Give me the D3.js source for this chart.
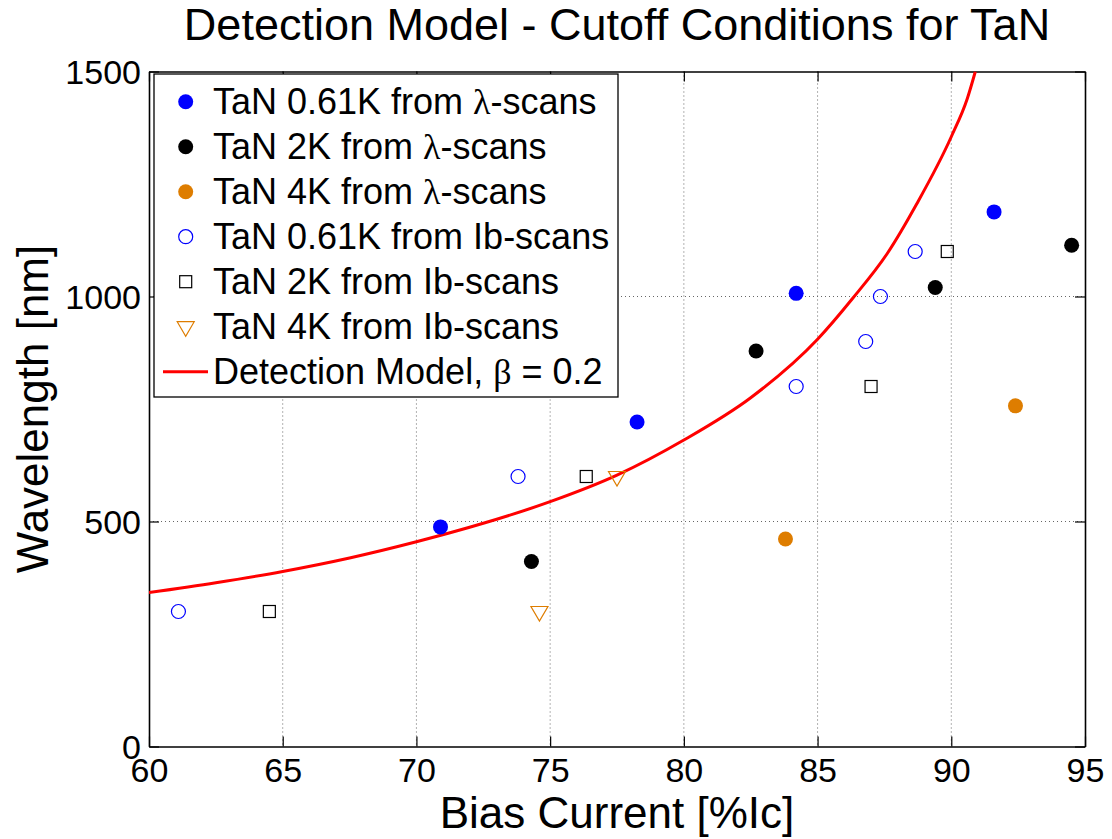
<!DOCTYPE html>
<html>
<head>
<meta charset="utf-8">
<script src="https://cdn.jsdelivr.net/npm/d3@7"></script>
<style>
  html, body { margin: 0; padding: 0; background: #fff; }
  svg { display: block; font-family: "Liberation Sans", Arial, sans-serif; }
</style>
</head>
<body>
<svg id="chart" width="1112" height="839"></svg>
<script>
// ---------- data ----------
const xTicks = [60, 65, 70, 75, 80, 85, 90, 95];
const yTicks = [0, 500, 1000, 1500];

const lam061X = [70.9, 78.25, 84.2, 91.6];
const lam061Y = [488, 721, 1007, 1188];
const lam2KX = [74.3, 82.7, 89.4, 94.5];
const lam2KY = [411, 879, 1020, 1114];
const lam4KX = [83.8, 92.4];
const lam4KY = [461, 757];
const ib061X = [61.1, 73.8, 84.2, 86.8, 87.35, 88.65];
const ib061Y = [300, 600, 800, 900, 1000, 1100];
const ib2KX = [64.5, 76.35, 87.0, 89.85];
const ib2KY = [300, 600, 800, 1100];
const ib4KX = [74.6, 77.5];
const ib4KY = [300, 600];

const modelX = [60, 62.5, 65, 67.5, 70, 72.5, 75, 77.5, 80, 82.5, 85, 86.3, 87.6, 88.7, 90, 90.6, 90.9];
const modelY = [342, 364, 389, 419, 455, 496, 544, 603, 681, 775, 905, 995, 1095, 1205, 1355, 1440, 1500];

const legendLabels = [
  ["TaN 0.61K from ", "λ", "-scans"],
  ["TaN 2K from ", "λ", "-scans"],
  ["TaN 4K from ", "λ", "-scans"],
  ["TaN 0.61K from Ib-scans"],
  ["TaN 2K from Ib-scans"],
  ["TaN 4K from Ib-scans"],
  ["Detection Model, ", "β", " = 0.2"]
];

// ---------- layout ----------
const svg = d3.select("#chart");
const W = 1112, H = 839;
const m = { left: 149, right: 1085, top: 71.5, bottom: 746.5 };
const x = d3.scaleLinear().domain([60, 95]).range([m.left, m.right]);
const y = d3.scaleLinear().domain([0, 1500]).range([m.bottom, m.top]);

const BLUE = "#0000ff", BLACK = "#000000", ORANGE = "#de7d00", RED = "#ff0000";

svg.append("rect").attr("width", W).attr("height", H).attr("fill", "#fff");

// grid
const grid = svg.append("g");
grid.selectAll("line.gx").data(xTicks.filter(d => d > 60 && d < 95)).join("line")
  .attr("x1", d => x(d)).attr("x2", d => x(d)).attr("y1", m.top).attr("y2", m.bottom)
  .attr("stroke", "#666").attr("stroke-width", 1).attr("stroke-dasharray", "1,3");
grid.selectAll("line.gy").data(yTicks.filter(d => d > 0 && d < 1500)).join("line")
  .attr("x1", m.left).attr("x2", m.right).attr("y1", d => y(d)).attr("y2", d => y(d))
  .attr("stroke", "#666").attr("stroke-width", 1).attr("stroke-dasharray", "1,3");

// axes (MATLAB-like box with inward ticks)
const tickLen = 10;
const axB = svg.append("g").attr("transform", `translate(0,${m.bottom})`)
  .call(d3.axisBottom(x).tickValues(xTicks).tickSizeInner(-tickLen).tickSizeOuter(0).tickPadding(11).tickFormat(d3.format("d")));
const axT = svg.append("g").attr("transform", `translate(0,${m.top})`)
  .call(d3.axisTop(x).tickValues(xTicks).tickSizeInner(-tickLen).tickSizeOuter(0).tickFormat(""));
const axL = svg.append("g").attr("transform", `translate(${m.left},0)`)
  .call(d3.axisLeft(y).tickValues(yTicks).tickSizeInner(-tickLen).tickSizeOuter(0).tickPadding(8).tickFormat(d3.format("d")));
const axR = svg.append("g").attr("transform", `translate(${m.right},0)`)
  .call(d3.axisRight(y).tickValues(yTicks).tickSizeInner(-tickLen).tickSizeOuter(0).tickFormat(""));
[axB, axT, axL, axR].forEach(a => {
  a.select(".domain").attr("stroke", "#000").attr("stroke-width", 1.6);
  a.selectAll(".tick line").attr("stroke", "#000").attr("stroke-width", 1.2);
  a.selectAll("text").attr("fill", "#000").attr("font-size", 34).attr("font-family", "Liberation Sans, Arial, sans-serif");
});
axB.selectAll("text").attr("dy", "0.71em");
axL.selectAll("text").attr("dy", "0.36em");

// model curve
const clipId = "plotclip";
svg.append("clipPath").attr("id", clipId).append("rect")
  .attr("x", m.left).attr("y", m.top).attr("width", m.right - m.left).attr("height", m.bottom - m.top);
const modelData = modelX.map((d, i) => [d, modelY[i]]);
svg.append("path").datum(modelData)
  .attr("clip-path", `url(#${clipId})`)
  .attr("d", d3.line().x(d => x(d[0])).y(d => y(d[1])).curve(d3.curveMonotoneX))
  .attr("fill", "none").attr("stroke", RED).attr("stroke-width", 3);

// markers
const pts = (xs, ys) => xs.map((d, i) => [d, ys[i]]);
const g = svg.append("g");
function filled(xs, ys, color) {
  g.append("g").selectAll("circle").data(pts(xs, ys)).join("circle")
    .attr("cx", d => x(d[0])).attr("cy", d => y(d[1])).attr("r", 7.5).attr("fill", color);
}
function openCircle(xs, ys, color) {
  g.append("g").selectAll("circle").data(pts(xs, ys)).join("circle")
    .attr("cx", d => x(d[0])).attr("cy", d => y(d[1])).attr("r", 7).attr("fill", "none")
    .attr("stroke", color).attr("stroke-width", 1.2);
}
function square(xs, ys, color) {
  g.append("g").selectAll("rect").data(pts(xs, ys)).join("rect")
    .attr("x", d => x(d[0]) - 6).attr("y", d => y(d[1]) - 6).attr("width", 12).attr("height", 12)
    .attr("fill", "none").attr("stroke", color).attr("stroke-width", 1.2);
}
const triPath = (cx, cy) => `M${cx - 8.5},${cy - 6.5}L${cx + 8.5},${cy - 6.5}L${cx},${cy + 8}Z`;
function triangle(xs, ys, color) {
  g.append("g").selectAll("path").data(pts(xs, ys)).join("path")
    .attr("d", d => triPath(x(d[0]), y(d[1]) + 1.5))
    .attr("fill", "none").attr("stroke", color).attr("stroke-width", 1.2);
}
filled(lam061X, lam061Y, BLUE);
filled(lam2KX, lam2KY, BLACK);
filled(lam4KX, lam4KY, ORANGE);
openCircle(ib061X, ib061Y, BLUE);
square(ib2KX, ib2KY, BLACK);
triangle(ib4KX, ib4KY, ORANGE);

// legend
const lg = svg.append("g");
lg.append("rect").attr("x", 154).attr("y", 74).attr("width", 464).attr("height", 323)
  .attr("fill", "#fff").attr("stroke", "#000").attr("stroke-width", 1.3);
const rowY = i => 101.7 + i * 45;
const mx = 185.7;
lg.append("circle").attr("cx", mx).attr("cy", rowY(0)).attr("r", 7.5).attr("fill", BLUE);
lg.append("circle").attr("cx", mx).attr("cy", rowY(1)).attr("r", 7.5).attr("fill", BLACK);
lg.append("circle").attr("cx", mx).attr("cy", rowY(2)).attr("r", 7.5).attr("fill", ORANGE);
lg.append("circle").attr("cx", mx).attr("cy", rowY(3)).attr("r", 7).attr("fill", "none").attr("stroke", BLUE).attr("stroke-width", 1.2);
lg.append("rect").attr("x", mx - 6).attr("y", rowY(4) - 6).attr("width", 12).attr("height", 12).attr("fill", "none").attr("stroke", BLACK).attr("stroke-width", 1.2);
lg.append("path").attr("d", triPath(mx, rowY(5) + 1.5)).attr("fill", "none").attr("stroke", ORANGE).attr("stroke-width", 1.2);
lg.append("line").attr("x1", 163).attr("x2", 208).attr("y1", rowY(6)).attr("y2", rowY(6)).attr("stroke", RED).attr("stroke-width", 3);

legendLabels.forEach((parts, i) => {
  const t = lg.append("text").attr("x", 213).attr("y", rowY(i) + 12.5).attr("font-size", 36).attr("fill", "#000");
  parts.forEach(p => {
    const ts = t.append("tspan").text(p);
    if (p === "λ" || p === "β") ts.attr("font-family", "Liberation Serif, Times New Roman, serif");
  });
});

// titles
svg.append("text").attr("x", (m.left + m.right) / 2).attr("y", 40).attr("text-anchor", "middle")
  .attr("font-size", 45).attr("fill", "#000").text("Detection Model - Cutoff Conditions for TaN");
svg.append("text").attr("x", (m.left + m.right) / 2).attr("y", 828).attr("text-anchor", "middle")
  .attr("font-size", 44).attr("fill", "#000").text("Bias Current [%Ic]");
svg.append("text").attr("transform", `translate(48,${(m.top + m.bottom) / 2}) rotate(-90)`)
  .attr("text-anchor", "middle").attr("font-size", 44).attr("fill", "#000").text("Wavelength [nm]");
</script>
</body>
</html>
